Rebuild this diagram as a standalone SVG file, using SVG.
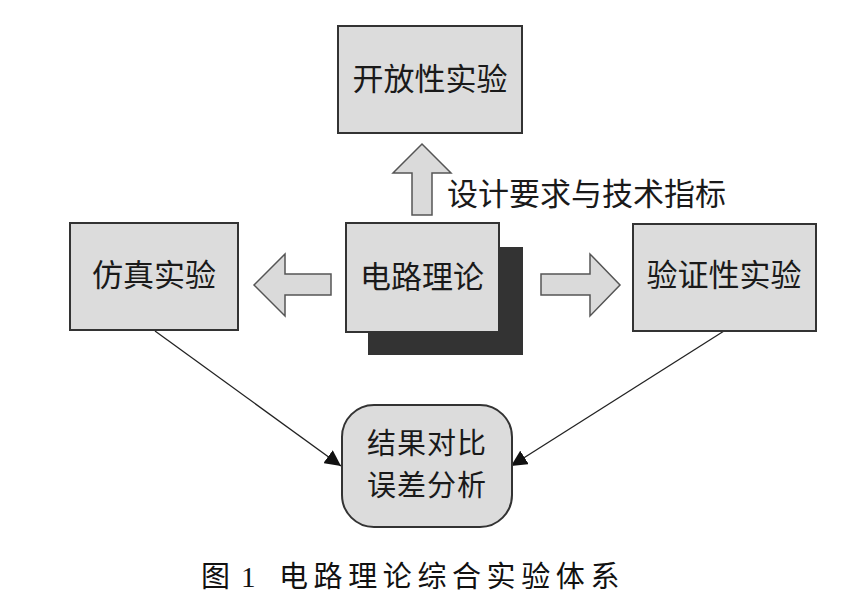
<svg xmlns="http://www.w3.org/2000/svg" width="860" height="606" viewBox="0 0 860 606">
<style>
.box{fill:#dcdcdc;stroke:#333;stroke-width:2}
.big{fill:#dadada;stroke:#555;stroke-width:1.5;stroke-linejoin:miter}
.t{font-family:"Noto Sans CJK SC","Noto Sans CJK TC",sans-serif;font-size:31px;fill:#1a1a1a;text-anchor:middle}
.t2{font-family:"Noto Sans CJK SC","Noto Sans CJK TC",sans-serif;font-size:29px;fill:#1a1a1a;text-anchor:middle;letter-spacing:1px}
.lbl{font-family:"Noto Sans CJK SC",sans-serif;font-size:31px;fill:#1a1a1a}
.cap{font-family:"Liberation Serif","Noto Sans CJK SC",serif;font-size:29px;fill:#111}
.ln{stroke:#222;stroke-width:1.3;fill:none}
</style>
<defs>
<marker id="ah" viewBox="0 0 10 10" refX="10" refY="5" markerWidth="16" markerHeight="16" markerUnits="userSpaceOnUse" orient="auto">
<path d="M0,0 L10,5 L0,10 z" fill="#111"/>
</marker>
</defs>
<rect width="860" height="606" fill="#fff"/>
<g id="connectors">
<path class="big" d="M412,215 L412,173 L393,173 L422,144 L451,173 L432,173 L432,215 Z"/>
<path class="big" d="M331,274 L285,274 L285,254 L254,285 L285,316 L285,295 L331,295 Z"/>
<path class="big" d="M541,274 L590,274 L590,254 L620,285 L590,316 L590,295 L541,295 Z"/>
<line class="ln" x1="155" y1="331" x2="341" y2="466" marker-end="url(#ah)"/>
<line class="ln" x1="724" y1="331" x2="511" y2="466" marker-end="url(#ah)"/>
</g>
<g id="open">
<rect class="box" x="338" y="26" width="184" height="107"/>
<text class="t" x="430" y="90">开放性实验</text>
</g>
<g id="label">
<text class="lbl" x="447" y="205">设计要求与技术指标</text>
</g>
<g id="theory">
<rect x="368" y="247" width="155" height="108" fill="#333"/>
<rect class="box" x="346" y="223" width="153" height="109"/>
<text class="t" x="422" y="288">电路理论</text>
</g>
<g id="sim">
<rect class="box" x="70" y="223" width="168" height="107"/>
<text class="t" x="154" y="286">仿真实验</text>
</g>
<g id="verify">
<rect class="box" x="633" y="224" width="183" height="107"/>
<text class="t" x="724" y="286">验证性实验</text>
</g>
<g id="result">
<rect class="box" x="342" y="405" width="170" height="122" rx="32" ry="32"/>
<text class="t2" x="427" y="454">结果对比</text>
<text class="t2" x="427" y="496">误差分析</text>
</g>
<g id="caption">
<text class="cap" y="587"><tspan x="201">图</tspan><tspan x="241">1</tspan><tspan x="279" letter-spacing="5.6">电路理论综合实验体系</tspan></text>
</g>
</svg>
